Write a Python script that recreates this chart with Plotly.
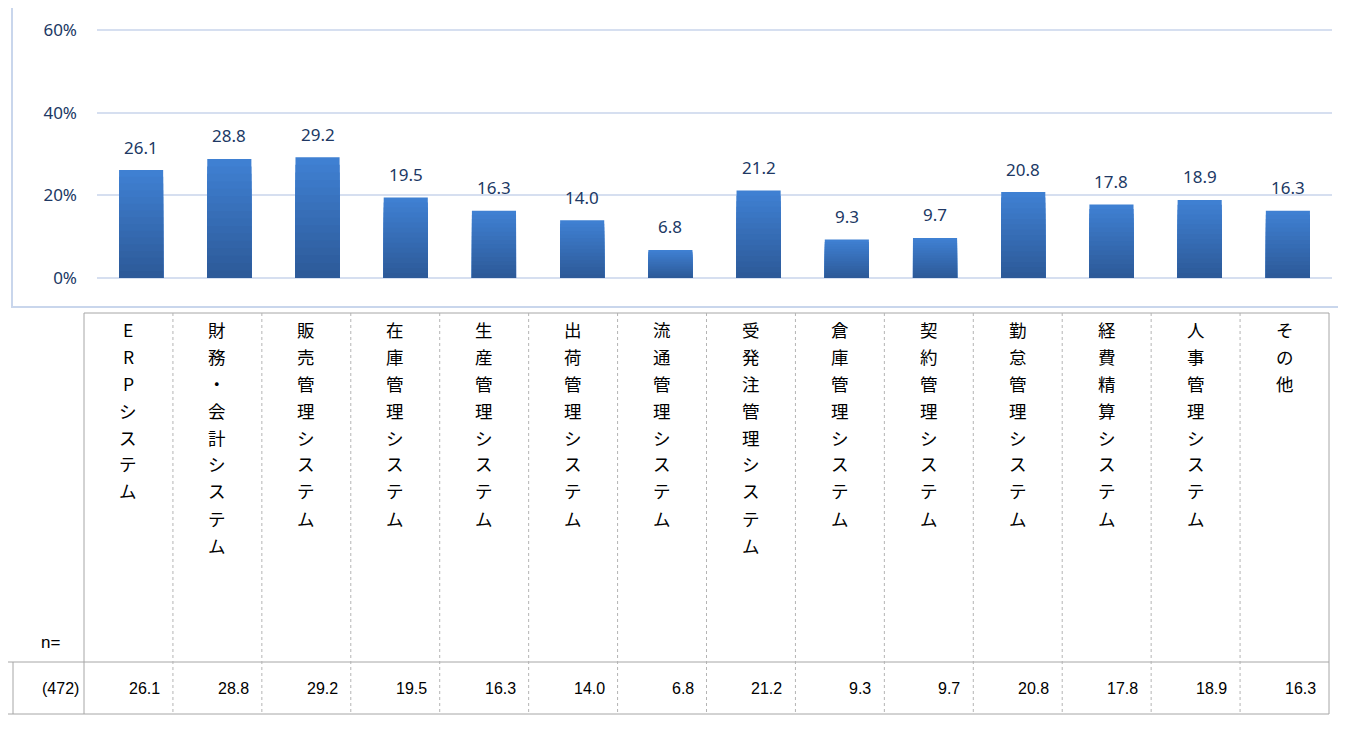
import plotly.graph_objects as go

W, H = 1346, 734
PAD = 8  # default body margin of the html page

categories = [
    "ERPシステム", "財務・会計システム", "販売管理システム", "在庫管理システム",
    "生産管理システム", "出荷管理システム", "流通管理システム", "受発注管理システム",
    "倉庫管理システム", "契約管理システム", "勤怠管理システム", "経費精算システム",
    "人事管理システム", "その他",
]
values = [26.1, 28.8, 29.2, 19.5, 16.3, 14.0, 6.8, 21.2, 9.3, 9.7, 20.8, 17.8, 18.9, 16.3]
n_total = 472
y_ticks = [0, 20, 40, 60]

FW, FH = W - 2 * PAD, H - 2 * PAD


def px_x(p):
    return (p - PAD) / FW


def px_y(p):
    return 1 - (p - PAD) / FH


def mix(c1, c2, t):
    a = [int(c1[i:i + 2], 16) for i in (1, 3, 5)]
    b = [int(c2[i:i + 2], 16) for i in (1, 3, 5)]
    return "#" + "".join(f"{round(a[i] + (b[i] - a[i]) * t):02x}" for i in range(3))


TOP_COL = "#3f80d2"
BOT_COL = "#2d5a99"
LABEL_COL = "#203864"
LINE_COL = "#a6a6a6"

# y axis: 0% sits at y=278px, 60% at y=30px; leave a little headroom so 60% stays drawn
y0_px, y60_px = 278, 30
y_top = 61
top_px = y0_px - (y0_px - y60_px) * y_top / 60

fig = go.Figure()

# excel style vertical gradient: stack shrinking bars on top of each other
layers = 16
for k in range(layers):
    frac = (layers - k) / layers
    fig.add_trace(go.Bar(
        x=categories,
        y=[v * frac for v in values],
        width=0.5,
        marker=dict(color=mix(TOP_COL, BOT_COL, k / (layers - 1)), line_width=0),
        hoverinfo="skip" if k else "x+y",
        showlegend=False,
    ))

# value labels above bars
for c, v in zip(categories, values):
    fig.add_annotation(
        x=c, y=v, text=f"{v:.1f}", showarrow=False,
        yanchor="middle", yshift=23,
        font=dict(family="Noto Sans, Open Sans", size=17, color=LABEL_COL),
    )

# chart frame (top edge is above the visible area)
fig.add_shape(type="rect", xref="paper", yref="paper",
              x0=px_x(12), x1=px_x(1342), y0=px_y(307), y1=px_y(-5),
              line=dict(color="#c9d6ec", width=2), fillcolor="rgba(0,0,0,0)")

# ---- table below the chart ----
tbl_left, tbl_right = 84, 1329
tbl_top, row_top, row_bot = 313, 662, 714
col_w = (tbl_right - tbl_left) / len(categories)

solid = dict(color=LINE_COL, width=1)
dotted = dict(color="#b4b4b4", width=1, dash="dot")


def hline(x0, x1, y, line):
    fig.add_shape(type="line", xref="paper", yref="paper",
                  x0=px_x(x0), x1=px_x(x1), y0=px_y(y), y1=px_y(y), line=line)


def vline(x, y0, y1, line):
    fig.add_shape(type="line", xref="paper", yref="paper",
                  x0=px_x(x), x1=px_x(x), y0=px_y(y0), y1=px_y(y1), line=line)


hline(tbl_left, tbl_right, tbl_top, solid)
hline(PAD, tbl_right, row_top, solid)
hline(PAD, tbl_right, row_bot, solid)
vline(13, row_top, row_bot, solid)
vline(tbl_left, tbl_top, row_bot, solid)
vline(tbl_right, tbl_top, row_bot, solid)
for i in range(1, len(categories)):
    vline(tbl_left + i * col_w, tbl_top, row_bot, dotted)

jp_font = dict(family="Noto Sans CJK JP", size=17.5, color="black")
num_font = dict(family="Liberation Sans, Arial", size=16, color="black")
row_mid = (row_top + row_bot) / 2

for i, (c, v) in enumerate(zip(categories, values)):
    cx = tbl_left + (i + 0.5) * col_w
    # vertical writing: one character per line
    for j, ch in enumerate(c):
        fig.add_annotation(
            x=px_x(cx), y=px_y(329 + 27 * j), xref="paper", yref="paper",
            text=ch, showarrow=False, xanchor="center", yanchor="middle",
            font=jp_font,
        )
    fig.add_annotation(
        x=px_x(tbl_left + (i + 1) * col_w - 11), y=px_y(row_mid),
        xref="paper", yref="paper", text=f"{v:.1f}", showarrow=False,
        xanchor="right", yanchor="middle", font=num_font,
    )

fig.add_annotation(x=px_x(62), y=px_y(642), xref="paper", yref="paper",
                   text="n=", showarrow=False, xanchor="right", yanchor="middle",
                   font=dict(family="Liberation Sans, Arial", size=17, color="black"))
fig.add_annotation(x=px_x(81), y=px_y(row_mid), xref="paper", yref="paper",
                   text=f"({n_total})", showarrow=False, xanchor="right", yanchor="middle",
                   font=num_font)

fig.update_layout(
    width=FW, height=FH,
    margin=dict(l=0, r=0, t=0, b=0, pad=0),
    barmode="overlay",
    plot_bgcolor="white",
    paper_bgcolor="white",
    xaxis=dict(domain=[px_x(97), px_x(1332)], showticklabels=False, showgrid=False,
               showline=False, zeroline=False, fixedrange=True, automargin=False),
    yaxis=dict(domain=[px_y(y0_px), px_y(top_px)], range=[0, y_top],
               tickvals=y_ticks, ticktext=[f"{t}%" for t in y_ticks],
               showgrid=True, gridcolor="#d6dff0", gridwidth=2,
               zeroline=True, zerolinecolor="#d6dff0", zerolinewidth=2,
               ticks="", ticklabelstandoff=19, fixedrange=True, automargin=False,
               tickfont=dict(family="Noto Sans, Open Sans", size=17, color=LABEL_COL)),
    font=dict(family="Noto Sans CJK JP"),
)

fig.write_html("out.html")
